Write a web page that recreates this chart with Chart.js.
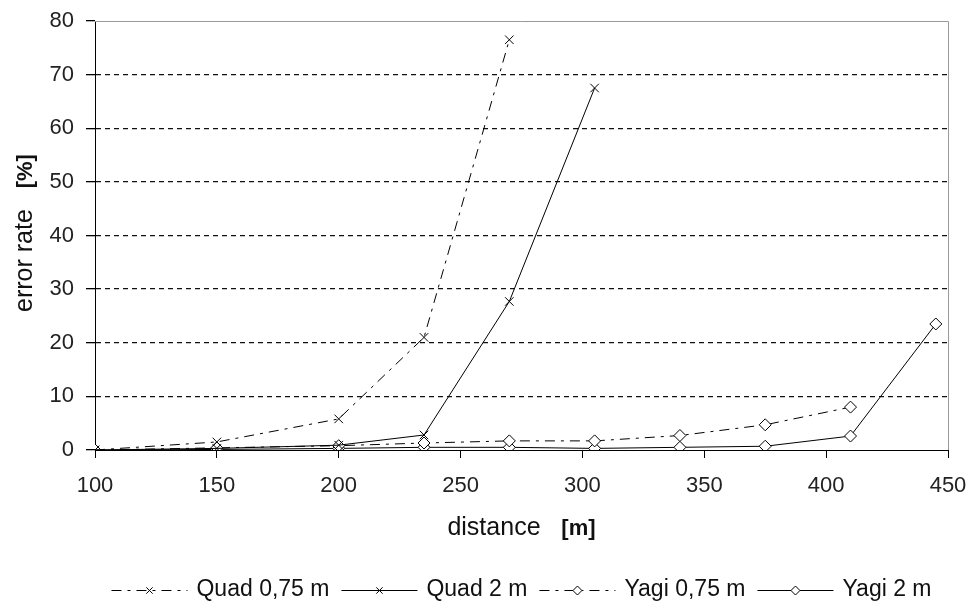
<!DOCTYPE html>
<html>
<head>
<meta charset="utf-8">
<script src="https://cdn.jsdelivr.net/npm/chart.js@4/dist/chart.umd.min.js"></script>
<style>
  html, body { margin: 0; padding: 0; background: #fff; }
  #wrap { width: 972px; height: 609px; position: relative; }
</style>
</head>
<body>
<div id="wrap"><canvas id="c" width="972" height="609"></canvas></div>
<script>
// ---- data ----
const distance   = [100, 150, 200, 235, 270, 305, 340, 375, 410, 445];
const quad075    = [0, 1.5, 5.8, 21.0, 76.5];
const quad2      = [0, 0.3, 0.9, 2.8, 27.7, 67.5];
const yagi075    = [0, 0.4, 0.8, 1.3, 1.7, 1.7, 2.7, 4.7, 8.0];
const yagi2      = [0, 0.1, 0.3, 0.5, 0.5, 0.3, 0.5, 0.7, 2.6, 23.5];
const seriesNames = ['Quad 0,75 m', 'Quad 2 m', 'Yagi 0,75 m', 'Yagi 2 m'];
const yTicks = [0, 10, 20, 30, 40, 50, 60, 70, 80];
const xTicks = [100, 150, 200, 250, 300, 350, 400, 450];
const xTitle = ['distance', '[m]'];
const yTitle = ['error rate', '[%]'];

const FONT = '"Liberation Sans", Arial, sans-serif';
const dashDot = [10, 6, 3, 6];

function pts(vals) { return vals.map((v, i) => ({ x: distance[i], y: v })); }

const styles = [
  { dash: dashDot, marker: 'crossRot', radius: 6, fill: '#000' },
  { dash: [],      marker: 'crossRot', radius: 6, fill: '#000' },
  { dash: dashDot, marker: 'rectRot',  radius: 6, fill: '#fff' },
  { dash: [],      marker: 'rectRot',  radius: 6, fill: '#fff' }
];
const allVals = [quad075, quad2, yagi075, yagi2];

const datasets = allVals.map((vals, i) => ({
  label: seriesNames[i],
  data: pts(vals),
  borderColor: '#000',
  borderWidth: 1,
  borderDash: styles[i].dash,
  pointStyle: styles[i].marker,
  pointRadius: styles[i].radius,
  pointBorderWidth: 1,
  pointBorderColor: '#000',
  pointBackgroundColor: styles[i].fill,
  tension: 0,
  fill: false
}));

const decor = {
  id: 'decor',
  afterDraw(chart) {
    const ctx = chart.ctx;
    const a = chart.chartArea;
    ctx.save();
    // plot area top/right border (gray)
    ctx.strokeStyle = '#999';
    ctx.lineWidth = 1;
    ctx.setLineDash([]);
    ctx.beginPath();
    ctx.moveTo(a.left, a.top + 0.5);
    ctx.lineTo(a.right + 0.5, a.top + 0.5);
    ctx.lineTo(a.right + 0.5, a.bottom);
    ctx.stroke();

    ctx.fillStyle = '#111';
    ctx.textBaseline = 'middle';
    // x title
    const cx = (a.left + a.right) / 2;
    ctx.font = '25px ' + FONT;
    const w1 = ctx.measureText(xTitle[0] + '   ').width;
    ctx.font = 'bold 22px ' + FONT;
    const w2 = ctx.measureText(xTitle[1]).width;
    let sx = cx - (w1 + w2) / 2;
    ctx.textAlign = 'left';
    ctx.font = '25px ' + FONT;
    ctx.fillText(xTitle[0], sx, 528);
    ctx.font = 'bold 22px ' + FONT;
    ctx.fillText(xTitle[1], sx + w1, 529);

    // y title
    ctx.save();
    ctx.translate(25, 233);
    ctx.rotate(-Math.PI / 2);
    ctx.font = '25px ' + FONT;
    const v1 = ctx.measureText(yTitle[0] + '   ').width;
    ctx.font = 'bold 22px ' + FONT;
    const v2 = ctx.measureText(yTitle[1]).width;
    let sy = -(v1 + v2) / 2;
    ctx.font = '25px ' + FONT;
    ctx.fillText(yTitle[0], sy, 0);
    ctx.font = 'bold 22px ' + FONT;
    ctx.fillText(yTitle[1], sy + v1, 1);
    ctx.restore();

    // legend
    const ly = 590;
    const lineLen = 76, gapAfterLine = 9, gapItems = 12;
    ctx.font = '23px ' + FONT;
    const widths = seriesNames.map(n => ctx.measureText(n).width);
    let total = 0;
    widths.forEach((w, i) => { total += lineLen + gapAfterLine + w + (i < widths.length - 1 ? gapItems : 0); });
    let x = cx - total / 2;
    seriesNames.forEach((n, i) => {
      ctx.strokeStyle = '#000';
      ctx.lineWidth = 1;
      ctx.setLineDash(styles[i].dash);
      ctx.beginPath();
      ctx.moveTo(x, ly + 0.5);
      ctx.lineTo(x + lineLen, ly + 0.5);
      ctx.stroke();
      ctx.setLineDash([]);
      ctx.fillStyle = styles[i].fill;
      Chart.helpers.drawPoint(ctx, { pointStyle: styles[i].marker, radius: 4.5, borderWidth: 1, rotation: 0 }, x + lineLen / 2, ly + 0.5);
      ctx.fillStyle = '#111';
      ctx.textAlign = 'left';
      ctx.fillText(n, x + lineLen + gapAfterLine, ly);
      x += lineLen + gapAfterLine + widths[i] + gapItems;
    });
    ctx.restore();
  }
};

new Chart(document.getElementById('c'), {
  type: 'line',
  data: { datasets },
  options: {
    responsive: false,
    animation: false,
    devicePixelRatio: 1,
    layout: { padding: { top: 21, right: 24, left: 0, bottom: 0 } },
    plugins: { legend: { display: false }, tooltip: { enabled: false } },
    scales: {
      x: {
        type: 'linear',
        min: 100, max: 450,
        afterBuildTicks: s => { s.ticks = xTicks.map(v => ({ value: v })); },
        afterFit: s => { s.height = 159; s.paddingLeft = 0; s.paddingRight = 0; },
        grid: { drawOnChartArea: false, drawTicks: true, tickLength: 8, tickColor: '#000', color: '#000' },
        border: { display: true, color: '#000', width: 1 },
        ticks: { color: '#222', font: { family: FONT, size: 22 }, padding: 15, maxRotation: 0 }
      },
      y: {
        type: 'linear',
        min: 0, max: 80,
        afterBuildTicks: s => { s.ticks = yTicks.map(v => ({ value: v })); },
        afterFit: s => { s.width = 95; s.paddingTop = 0; s.paddingBottom = 0; },
        grid: {
          drawOnChartArea: true, drawTicks: true, tickLength: 9,
          tickColor: '#000',
          color: c => (c.tick && (c.tick.value === 0 || c.tick.value === 80)) ? 'rgba(0,0,0,0)' : '#111',
          lineWidth: 1.3
        },
        border: { display: true, color: '#000', width: 1, dash: [5, 4] },
        ticks: { color: '#222', font: { family: FONT, size: 22 }, padding: 12 }
      }
    }
  },
  plugins: [decor]
});
</script>
</body>
</html>
